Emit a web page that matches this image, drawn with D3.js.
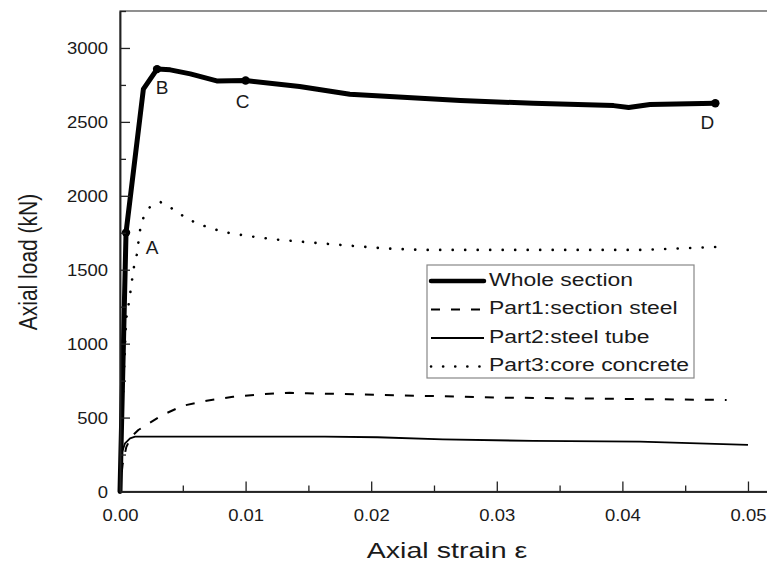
<!DOCTYPE html>
<html>
<head>
<meta charset="utf-8">
<script src="https://cdn.jsdelivr.net/npm/d3@7"></script>
<style>
  html, body { margin: 0; padding: 0; background: #fff; }
  svg { display: block; }
  text { font-family: "Liberation Sans", Arial, Helvetica, sans-serif; fill: #1a1a1a; }
</style>
</head>
<body>
<svg id="chart" width="767" height="563"></svg>
<script>
// Load–strain response of the composite column and its three components
const wholeStrain = [0, 0.00048, 0.00186, 0.00295, 0.0040, 0.0056, 0.0077, 0.0100, 0.0143, 0.0183, 0.0271, 0.0329, 0.0393, 0.0405, 0.0422, 0.0474];
const wholeLoad   = [0, 1751, 2721, 2857, 2852, 2825, 2777, 2780, 2739, 2687, 2644, 2626, 2610, 2597, 2617, 2626];

const steelStrain = [0, 0.0002, 0.0005, 0.0009, 0.00146, 0.0034, 0.0050, 0.0069, 0.0090, 0.0114, 0.0135, 0.0149, 0.0173, 0.0303, 0.0483];
const steelLoad   = [0, 180, 300, 370, 416, 518, 580, 614, 641, 658, 668, 664, 660, 635, 619];

const tubeStrain = [0, 0.00005, 0.00013, 0.0004, 0.0008, 0.0012, 0.0163, 0.0205, 0.0257, 0.0329, 0.0414, 0.0500];
const tubeLoad   = [0, 150, 258, 326, 360, 371, 371, 367, 353, 342, 337, 315];

const concreteStrain = [0, 0.0002, 0.00048, 0.00066, 0.00093, 0.00106, 0.00133, 0.0016, 0.00186, 0.0024, 0.00324, 0.00424, 0.0053, 0.0062, 0.0082, 0.0101, 0.0122, 0.0159, 0.0209, 0.0240, 0.0414, 0.0475];
const concreteLoad   = [0, 550, 1160, 1250, 1411, 1499, 1600, 1769, 1850, 1927, 1957, 1909, 1848, 1810, 1756, 1729, 1706, 1679, 1645, 1634, 1634, 1654];

// Characteristic points on the whole-section curve
const keyLabels = ["A", "B", "C", "D"];
const keyStrain = [0.00048, 0.00295, 0.0100, 0.0474];
const keyLoad   = [1751, 2857, 2780, 2626];

const seriesNames = ["Whole section", "Part1:section steel", "Part2:steel tube", "Part3:core concrete"];

const xTicks = [0, 0.01, 0.02, 0.03, 0.04, 0.05];
const xMinorTicks = [0.005, 0.015, 0.025, 0.035, 0.045];
const yTicks = [0, 500, 1000, 1500, 2000, 2500, 3000];
const yMinorTicks = [250, 750, 1250, 1750, 2250, 2750, 3250];

const svg = d3.select("#chart");

const x = d3.scaleLinear().domain([0, 0.052]).range([120, 773.1]);
const y = d3.scaleLinear().domain([0, 3250]).range([491.5, 11]);

const zip = (xs, ys) => xs.map((v, i) => [v, ys[i]]);
const line = d3.line().x(d => x(d[0])).y(d => y(d[1]));

const styles = [
  { data: zip(wholeStrain, wholeLoad), width: 5, dash: null, cap: "round" },
  { data: zip(steelStrain, steelLoad), width: 2, dash: "9,11", cap: "butt" },
  { data: zip(tubeStrain, tubeLoad), width: 1.8, dash: null, cap: "butt" },
  { data: zip(concreteStrain, concreteLoad), width: 2.6, dash: "0.1,12.4", cap: "round" }
];

// Horizontally widened text placed at (px, py)
function wideText(sel, px, py, sx) {
  return sel.attr("x", 0).attr("y", 0)
    .attr("transform", `translate(${px},${py}) scale(${sx},1)`);
}

// Frame (top and right edges)
svg.append("rect")
  .attr("x", x(0)).attr("y", y(3250))
  .attr("width", x(0.052) - x(0)).attr("height", y(0) - y(3250))
  .attr("fill", "none").attr("stroke", "#555").attr("stroke-width", 1.3);

// Curves, drawn back to front
[3, 1, 2, 0].forEach(i => {
  const s = styles[i];
  svg.append("path")
    .attr("d", line(s.data))
    .attr("fill", "none")
    .attr("stroke", "#000")
    .attr("stroke-width", s.width)
    .attr("stroke-linejoin", "round")
    .attr("stroke-linecap", s.cap)
    .attr("stroke-dasharray", s.dash);
});

// Key point markers
const keyPts = zip(keyStrain, keyLoad);
svg.selectAll("circle.key").data(keyPts).enter().append("circle")
  .attr("class", "key")
  .attr("cx", d => x(d[0])).attr("cy", d => y(d[1]))
  .attr("r", 4.2).attr("fill", "#000");

const labelOffsets = [[26, 16], [5, 20], [-3, 22], [-8, 21]];
svg.selectAll("text.key").data(keyPts).enter().append("text")
  .attr("class", "key")
  .attr("x", (d, i) => x(d[0]) + labelOffsets[i][0])
  .attr("y", (d, i) => y(d[1]) + labelOffsets[i][1])
  .attr("text-anchor", "middle")
  .attr("dominant-baseline", "middle")
  .attr("font-size", 19)
  .text((d, i) => keyLabels[i]);

// Axes with inward ticks
const axisColor = "#222";
const xAxis = svg.append("g").attr("transform", `translate(0,${y(0)})`)
  .call(d3.axisBottom(x).tickValues(xTicks).tickSizeInner(-10).tickSizeOuter(0).tickPadding(18).tickFormat(d3.format(".2f")));
const xMinor = svg.append("g").attr("transform", `translate(0,${y(0)})`)
  .call(d3.axisBottom(x).tickValues(xMinorTicks).tickSizeInner(-6).tickSizeOuter(0).tickFormat(""));
const yAxis = svg.append("g").attr("transform", `translate(${x(0)},0)`)
  .call(d3.axisLeft(y).tickValues(yTicks).tickSizeInner(-10).tickSizeOuter(0).tickPadding(12).tickFormat(d3.format("d")));
const yMinor = svg.append("g").attr("transform", `translate(${x(0)},0)`)
  .call(d3.axisLeft(y).tickValues(yMinorTicks).tickSizeInner(-6).tickSizeOuter(0).tickFormat(""));

[xAxis, xMinor, yAxis, yMinor].forEach(g => {
  g.select(".domain").attr("stroke", axisColor).attr("stroke-width", 1.5);
  g.selectAll(".tick line").attr("stroke", axisColor).attr("stroke-width", 1.3);
  g.selectAll(".tick text").attr("font-size", 16.5).attr("fill", "#222")
    .attr("font-family", "'Liberation Sans', Arial, sans-serif");
});
xAxis.selectAll(".tick text").each(function () {
  const t = d3.select(this);
  const ty = +t.attr("y");
  t.attr("dy", "0.71em");
  wideText(t, 0, ty, 1.12);
});
yAxis.selectAll(".tick text").each(function () {
  const t = d3.select(this);
  const tx = +t.attr("x");
  t.attr("dy", "0.35em");
  wideText(t, tx, 0, 1.12);
});

// Axis titles
wideText(svg.append("text"), 447, 558, 1.3)
  .attr("text-anchor", "middle")
  .attr("font-size", 22)
  .text("Axial strain ε");

svg.append("text")
  .attr("transform", "translate(37,262) rotate(-90) scale(1,1.2)")
  .attr("text-anchor", "middle")
  .attr("font-size", 21)
  .text("Axial load (kN)");

// Legend
const legend = svg.append("g");
legend.append("rect")
  .attr("x", 427).attr("y", 265).attr("width", 267).attr("height", 113)
  .attr("fill", "#fff").attr("stroke", "#888").attr("stroke-width", 1.2);

const rowY = [281, 309.5, 338, 366.5];
styles.forEach((s, i) => {
  legend.append("line")
    .attr("x1", 431).attr("x2", 484)
    .attr("y1", rowY[i]).attr("y2", rowY[i])
    .attr("stroke", "#000")
    .attr("stroke-width", i === 0 ? 4.5 : s.width)
    .attr("stroke-linecap", s.cap)
    .attr("stroke-dasharray", i === 3 ? "0.1,12" : s.dash);
  wideText(legend.append("text"), 489, rowY[i], 1.24)
    .attr("dominant-baseline", "middle")
    .attr("font-size", 18.5)
    .text(seriesNames[i]);
});
</script>
</body>
</html>
